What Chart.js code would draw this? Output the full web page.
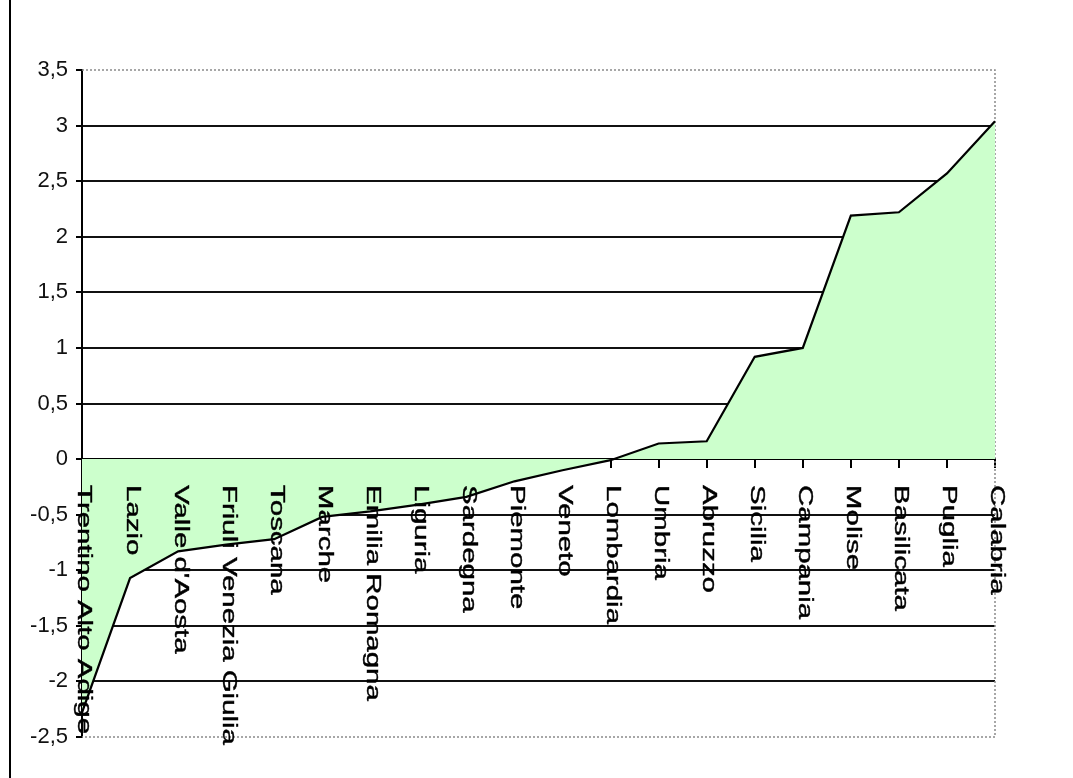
<!DOCTYPE html>
<html>
<head>
<meta charset="utf-8">
<script src="https://cdn.jsdelivr.net/npm/chart.js@4.4.1/dist/chart.umd.min.js"></script>
<style>
    body { margin: 0; background: #fff; }
    #wrap { position: relative; width: 1073px; height: 778px; }
    #leftRule { position: absolute; left: 9px; top: 0; width: 0; height: 778px; border-left: 2px solid #000; }
</style>
</head>
<body>
<div id="wrap">
    <div id="leftRule"></div>
    <canvas id="myChart" width="1073" height="778"></canvas>
</div>
<script>
const regions = ['Trentino Alto Adige', 'Lazio', "Valle d'Aosta", 'Friuli Venezia Giulia', 'Toscana',
    'Marche', 'Emilia Romagna', 'Liguria', 'Sardegna', 'Piemonte', 'Veneto', 'Lombardia',
    'Umbria', 'Abruzzo', 'Sicilia', 'Campania', 'Molise', 'Basilicata', 'Puglia', 'Calabria'];
const values = [-2.28, -1.07, -0.83, -0.77, -0.72, -0.52, -0.47, -0.41, -0.34, -0.20,
    -0.10, -0.01, 0.14, 0.16, 0.92, 1.00, 2.19, 2.22, 2.57, 3.04];
const yMin = -2.5;
const yMax = 3.5;
const yStep = 0.5;

// category names written top-to-bottom under the zero line
const verticalLabels = {
    id: 'verticalLabels',
    afterDatasetsDraw(chart) {
        const ctx = chart.ctx;
        const x = chart.scales.x;
        const y0 = chart.scales.y.getPixelForValue(0);
        ctx.save();
        ctx.fillStyle = '#000';
        ctx.strokeStyle = '#000';
        ctx.lineWidth = 0.4;
        ctx.font = '20px "Liberation Sans", Arial, sans-serif';
        ctx.textAlign = 'left';
        ctx.textBaseline = 'middle';
        regions.forEach((name, i) => {
            ctx.save();
            ctx.translate(x.getPixelForValue(i) + 2, y0 + 26);
            ctx.rotate(Math.PI / 2);
            ctx.scale(1.47, 1);
            ctx.fillText(name, 0, 0);
            ctx.strokeText(name, 0, 0);
            ctx.restore();
        });
        ctx.restore();
    }
};

// grey dotted frame on top, right and bottom of the plot
const plotFrame = {
    id: 'plotFrame',
    beforeDatasetsDraw(chart) {
        const { ctx, chartArea: a } = chart;
        ctx.save();
        ctx.strokeStyle = '#8a8a8a';
        ctx.lineWidth = 1.5;
        ctx.setLineDash([2, 2]);
        ctx.beginPath();
        ctx.moveTo(a.left, a.top);
        ctx.lineTo(a.right, a.top);
        ctx.lineTo(a.right, a.bottom);
        ctx.lineTo(a.left, a.bottom);
        ctx.stroke();
        ctx.restore();
    }
};

function renderChart() {
    const ctx = document.getElementById('myChart').getContext('2d');
    new Chart(ctx, {
        type: 'line',
        data: {
            labels: regions,
            datasets: [{
                data: values,
                borderColor: '#000',
                borderWidth: 2.2,
                backgroundColor: '#ccffcc',
                fill: 'origin',
                pointRadius: 0,
                tension: 0
            }]
        },
        options: {
            responsive: false,
            animation: false,
            layout: { padding: { left: 0, top: 70, right: 78, bottom: 41 } },
            plugins: { legend: { display: false }, tooltip: { enabled: false } },
            scales: {
                x: {
                    position: { y: 0 },
                    offset: false,
                    z: 1,
                    afterFit: (scale) => { scale.height = 0; },
                    grid: { drawOnChartArea: false, drawTicks: true, tickLength: 8, color: '#000', lineWidth: 2 },
                    border: { display: true, color: '#000', width: 2 },
                    ticks: { display: false }
                },
                y: {
                    min: yMin,
                    max: yMax,
                    afterFit: (scale) => { scale.width = 82; },
                    ticks: {
                        stepSize: yStep,
                        padding: 8,
                        color: '#111',
                        font: { family: '"Liberation Sans", Arial, sans-serif', size: 22 },
                        callback: (v) => String(v).replace('.', ',')
                    },
                    grid: {
                        color: (c) => (c.tick && (c.tick.value === yMin || c.tick.value === yMax)) ? 'rgba(0,0,0,0)' : '#111',
                        lineWidth: 2,
                        tickLength: 6,
                        tickColor: '#000'
                    },
                    border: { display: true, color: '#000', width: 2 }
                }
            }
        },
        plugins: [plotFrame, verticalLabels]
    });
}

renderChart();
</script>
</body>
</html>
